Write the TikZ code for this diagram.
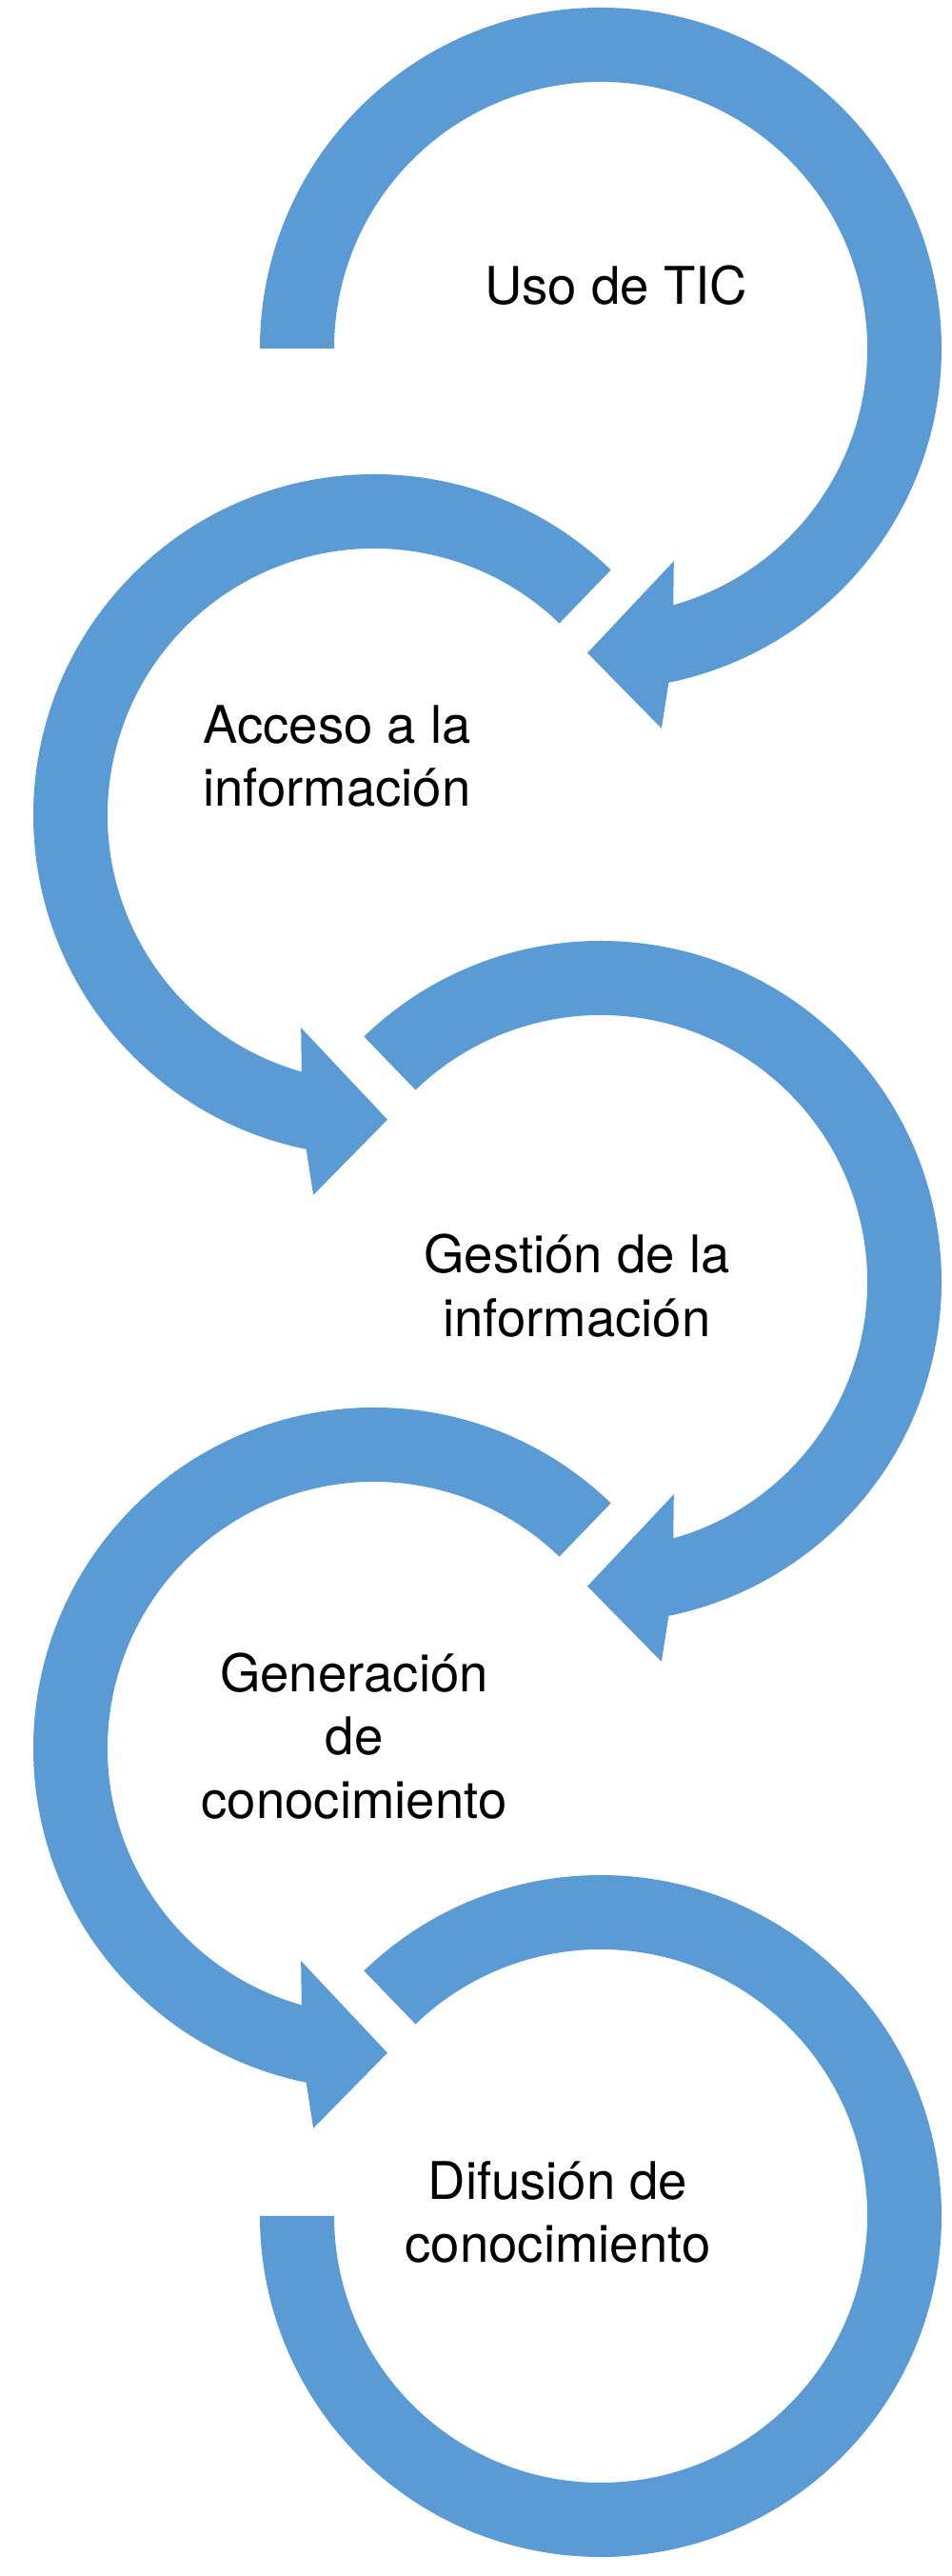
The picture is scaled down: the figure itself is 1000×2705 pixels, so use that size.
\documentclass[tikz,border=0pt]{standalone}
\usepackage{fontspec}
\setmainfont{TeX Gyre Heros}
\usepackage{tikz}
\usepackage{xcolor}
\definecolor{arrowblue}{RGB}{91,155,213}

\begin{document}
\begin{tikzpicture}[x=0.01cm,y=0.01cm]
\tikzstyle{every node}=[font=\fontsize{15.5}{19}\selectfont,align=center,inner sep=0pt]
\useasboundingbox (0,0) rectangle (1000,2705);
\coordinate (c1) at (631,2339);
\coordinate (c2) at (393,1849);
\coordinate (c3) at (631,1359);
\coordinate (c4) at (393,869);
\coordinate (c5) at (631,378);
% clockwise, from the left end
\fill[arrowblue,shift={(c1)}] (180:358) arc[start angle=180,end angle=-78.5,radius=358]
  -- (-80.9:404) -- (-92.5:320) -- (-71:236) -- (-74.2:280)
  arc[start angle=-74.2,end angle=180,radius=280] -- cycle;
% counter-clockwise
\fill[arrowblue,shift={(c2)}] (46:358) arc[start angle=46,end angle=258.5,radius=358]
  -- (260.9:404) -- (272.5:320) -- (251:236) -- (254.2:280)
  arc[start angle=254.2,end angle=46,radius=280] -- cycle;
\fill[arrowblue,shift={(c3)}] (134:358) arc[start angle=134,end angle=-78.5,radius=358]
  -- (-80.9:404) -- (-92.5:320) -- (-71:236) -- (-74.2:280)
  arc[start angle=-74.2,end angle=134,radius=280] -- cycle;
\fill[arrowblue,shift={(c4)}] (46:358) arc[start angle=46,end angle=258.5,radius=358]
  -- (260.9:404) -- (272.5:320) -- (251:236) -- (254.2:280)
  arc[start angle=254.2,end angle=46,radius=280] -- cycle;
% last one has no head
\fill[arrowblue,shift={(c5)}] (134:358) arc[start angle=134,end angle=-180,radius=358]
  -- (180:280) arc[start angle=-180,end angle=134,radius=280] -- cycle;
\node (uso) at (647,2405) {Uso de TIC};
\node (acceso) at (354,1911) {Acceso a la\\información};
\node (gestion) at (606,1355) {Gestión de la\\información};
\node (generacion) at (372,882) {Generación\\de\\conocimiento};
\node (difusion) at (586,382) {Difusión de\\conocimiento};
\end{tikzpicture}
\end{document}
